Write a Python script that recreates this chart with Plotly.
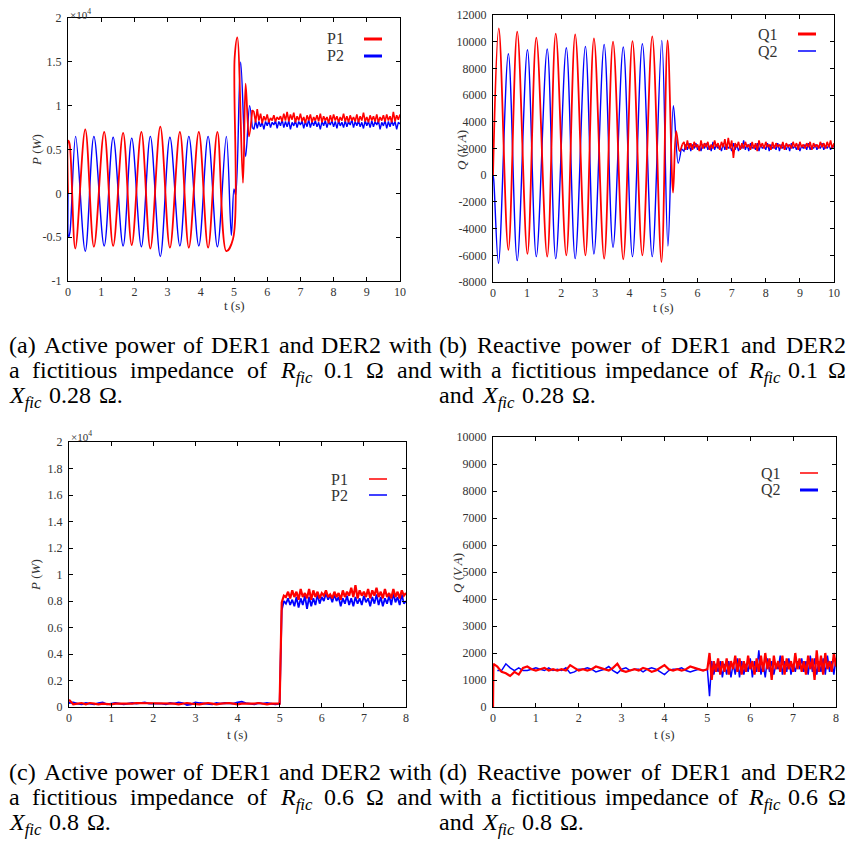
import numpy as np
import plotly.graph_objects as go

# reference canvas is 856x842; the page body margin (8 px) offsets the figure
REF_W, REF_H = 856, 842
OFF = 8
W, H = REF_W - OFF, REF_H - OFF
RED, BLUE = '#ff0000', '#0000ff'

# ---------------- (a) active power, Rfic 0.1, Xfic 0.28  [W] ----------------
a_p1_t = [0.00, 0.01, 0.05, 0.22, 0.52, 0.78, 1.09, 1.36, 1.66, 1.92, 2.21, 2.48, 2.78,
          3.07, 3.37, 3.64, 3.94, 4.22, 4.50, 4.77, 4.97, 5.02, 5.10, 5.27, 5.35, 5.45, 5.55]
a_p1 = [0, 6000, 5600, -6300, 7300, -6100, 7000, -6000, 6900, -5900, 7000, -6300, 7600,
        -6200, 7000, -6200, 7000, -6200, 7000, -6600, -5200, 15500, 17800, 1200, 12500, 6500, 9500]
a_p2_t = [0.00, 0.02, 0.06, 0.23, 0.52, 0.78, 1.09, 1.36, 1.66, 1.92, 2.21, 2.48, 2.78,
          3.07, 3.37, 3.64, 3.94, 4.22, 4.50, 4.77, 4.92, 5.00, 5.05, 5.20, 5.35, 5.47, 5.55]
a_p2 = [0, -5000, -4400, 6500, -6600, 6500, -6000, 6400, -6000, 6300, -6100, 6500, -7200,
        6400, -6000, 6500, -6000, 6500, -6100, 6500, -4800, 500, -200, 15000, 4200, 10000, 7500]
a_tail_start, a_tail_end = 5.6, 10.0
a_p1_tail = [9300, 8100, 9600, 8300, 9100, 8000, 8800, 8300, 9000, 8100, 8600, 8300, 8900, 8200, 8700,
             8400, 8800, 8200, 9100, 8300, 9300, 8200, 9000, 8400, 9200, 8100, 8800, 8300, 9100, 8200,
             8700, 8000, 8900, 8300, 9000, 8100, 8700, 8300, 8900, 8200, 9100, 8100, 8800, 8300, 8700,
             8000, 8900, 8200, 9000, 8300, 8800, 8100, 8700, 8300, 9100, 8200, 8800, 8100, 8900, 8300,
             8700, 8200, 9000, 8100, 8800, 8300, 9200, 8200, 8700, 8100, 8900, 8300, 8800, 8200, 9000,
             8100, 8700, 8300, 8900, 8200, 9000, 8300, 8800, 8100, 9300, 8200, 8900, 8400, 9000]
a_p2_tail = [7300, 8300, 7400, 8200, 7600, 8100, 7300, 8200, 7700, 8300, 7500, 8100, 7800, 8300, 7400,
             8200, 7700, 8400, 7500, 8200, 7600, 8300, 7300, 8100, 7700, 8300, 7500, 8200, 7800, 8300,
             7400, 8200, 7600, 8400, 7500, 8200, 7700, 8300, 7600, 8100, 7300, 8200, 7700, 8300, 7500,
             8200, 7800, 8300, 7600, 8200, 7400, 8300, 7700, 8100, 7500, 8300, 7600, 8200, 7800, 8400,
             7500, 8200, 7700, 8300, 7600, 8100, 7400, 8300, 7700, 8200, 7500, 8300, 7600, 8200, 7800,
             8300, 7300, 8100, 7700, 8300, 7400, 8200, 7600, 8300, 7700, 8200, 7300, 8100, 7900]

# ---------------- (b) reactive power, Rfic 0.1, Xfic 0.28  [VA] ----------------
b_q1_t = [0.00, 0.17, 0.45, 0.71, 1.01, 1.27, 1.59, 1.84, 2.15, 2.41, 2.71, 2.96, 3.26, 3.52,
          3.82, 4.09, 4.38, 4.67, 4.94, 5.12, 5.28, 5.37, 5.47, 5.55]
b_q1 = [0, 11000, -5600, 10750, -5900, 10300, -6100, 10600, -6000, 10550, -6000, 10250, -6250, 10000,
        -6300, 10050, -6000, 10400, -6500, 10100, -1300, 3300, 1800, 2300]
b_q2_t = [0.00, 0.02, 0.16, 0.45, 0.71, 1.01, 1.27, 1.59, 1.84, 2.15, 2.41, 2.71, 2.96, 3.26,
          3.52, 3.82, 4.09, 4.38, 4.67, 4.95, 5.13, 5.29, 5.43, 5.52]
b_q2 = [0, -300, -6600, 9100, -6400, 9400, -6100, 9450, -6250, 9550, -6250, 9650, -5900, 9800,
        -5400, 9600, -6100, 9850, -6100, 10100, -5300, 5200, 900, 2000]
b_tail_start, b_tail_end = 5.6, 10.0
b_q1_tail = [2500, 1900, 2600, 2000, 2400, 1900, 2500, 2100, 2300, 1800, 2600, 2000, 2400, 2100, 2500,
             1900, 2300, 2000, 2600, 2100, 2400, 1900, 2500, 2100, 2700, 1900, 2800, 2000, 2600, 1300,
             2400, 2100, 2500, 1900, 2400, 2000, 2500, 2100, 2300, 1900, 2500, 2000, 2400, 1800, 2600,
             2100, 2400, 2000, 2500, 2100, 2300, 1900, 2500, 2000, 2400, 2100, 2300, 2000, 2500, 1900,
             2400, 2100, 2300, 2000, 2500, 2100, 2400, 1900, 2500, 2100, 2300, 2000, 2400, 2100, 2500,
             1900, 2400, 2100, 2300, 2000, 2500, 2100, 2400, 2000, 2500, 2100, 2600, 2000, 2400]
b_q2_tail = [1800, 2300, 1900, 2400, 1800, 2300, 2000, 2400, 1900, 2200, 1800, 2300, 2000, 2400, 1900,
             2200, 1800, 2500, 1900, 2300, 2000, 2200, 1800, 2400, 1900, 2300, 2000, 2200, 1800, 2400,
             1900, 2300, 1800, 2200, 2000, 2600, 1900, 2300, 1800, 2400, 2000, 2200, 1900, 2400, 1800,
             2300, 2000, 2200, 1900, 2400, 1800, 2300, 2000, 2200, 1900, 2400, 1800, 2300, 2000, 2200,
             1900, 2300, 1800, 2400, 2000, 2200, 1900, 2300, 1800, 2200, 2000, 2300, 1900, 2400, 1900,
             2200, 2000, 2300, 1900, 2200, 2000, 2400, 1900, 2200, 2000, 2300, 1900, 2200, 2100]

# ---------------- (c) active power, Rfic 0.6, Xfic 0.8  [W] ----------------
c_pre_start, c_pre_end = 0.0, 5.0
c_p1_pre = [550, 200, 250, 300, 200, 300, 250, 200, 250, 200, 200, 250, 250, 200, 200, 250, 300,
            300, 250, 300, 250, 300, 300, 250, 250, 250, 200, 250, 300, 250, 200, 200, 250, 300,
            250, 200, 250, 300, 300, 250, 200, 250, 250, 200, 250, 300, 250, 200, 250, 250, 250]
c_p2_pre = [300, 350, 250, 200, 300, 250, 200, 300, 350, 200, 250, 300, 250, 200, 250, 300, 250,
            300, 350, 250, 250, 300, 250, 200, 300, 250, 350, 300, 150, 200, 350, 300, 250, 200,
            200, 300, 250, 300, 250, 250, 350, 400, 300, 250, 200, 300, 250, 300, 250, 200, 250]
c_post_start, c_post_end = 5.05, 8.0
c_p1_post = [7900, 8400, 8300, 8700, 8200, 8800, 8300, 8700, 8100, 8900, 8300, 8600, 8200, 8900, 8100,
             8800, 8300, 8700, 8200, 8600, 8400, 8800, 8300, 8500, 8200, 8700, 8300, 8600, 8100, 8800,
             8300, 8700, 8400, 9000, 8300, 9200, 8200, 8800, 8400, 8700, 8300, 8900, 8200, 8800, 8400,
             9000, 8300, 8700, 8200, 8900, 8300, 8600, 8200, 8900, 8300, 8700, 8200, 8800, 8400, 8600]
c_p2_post = [7300, 8000, 7800, 8200, 7700, 8100, 7600, 8300, 7500, 8200, 7700, 8400, 7400, 8300, 7600,
             8200, 7700, 8500, 7800, 8300, 8000, 8600, 8100, 8400, 7900, 8500, 8000, 8300, 7600, 8200,
             7800, 8400, 7700, 8200, 7600, 8300, 7800, 8200, 7700, 8400, 7900, 8200, 7600, 8300, 7800,
             8500, 7700, 8300, 7600, 8200, 7800, 8400, 7700, 8600, 7900, 8300, 7700, 8500, 7800, 8000]

# ---------------- (d) reactive power, Rfic 0.6, Xfic 0.8  [VA] ----------------
d_q1_init_t = [0.0, 0.01]
d_q1_init = [0, 1600]
d_pre_start, d_pre_end = 0.1, 5.0
d_q1_pre = [1500, 1300, 1250, 1150, 1300, 1200, 1450, 1500, 1400, 1350, 1400, 1450, 1350, 1400, 1350,
            1400, 1350, 1550, 1450, 1350, 1400, 1350, 1400, 1500, 1450, 1400, 1350, 1450, 1600, 1350,
            1300, 1350, 1400, 1350, 1450, 1400, 1300, 1350, 1450, 1550, 1400, 1350, 1400, 1350, 1400,
            1500, 1450, 1400, 1350, 1400]
d_q2_pre = [1350, 1350, 1600, 1450, 1350, 1450, 1350, 1350, 1400, 1450, 1400, 1350, 1450, 1350, 1400,
            1350, 1450, 1250, 1300, 1400, 1400, 1450, 1400, 1300, 1350, 1400, 1500, 1350, 1250, 1400,
            1450, 1350, 1400, 1400, 1300, 1400, 1450, 1400, 1300, 1200, 1350, 1400, 1400, 1450, 1350,
            1300, 1350, 1400, 1350, 1400]
d_post_start, d_post_end = 5.05, 8.0
d_q1_post = [2000, 1000, 1700, 1300, 1800, 1200, 1700, 1300, 1800, 1200, 1700, 1400, 1900, 1300, 1800,
             1200, 1700, 1300, 1900, 1400, 1700, 1200, 1800, 1300, 1900, 1300, 2000, 1400, 1800, 1000,
             1900, 1400, 1700, 1300, 1900, 1200, 1800, 1400, 1700, 1300, 2000, 1400, 1800, 1300, 1700,
             1200, 1900, 1400, 1800, 1000, 2100, 1300, 1900, 1200, 2000, 1400, 1700, 1300, 2000, 1500]
d_q2_post = [400, 1700, 1200, 1600, 1300, 1700, 1100, 1600, 1200, 1700, 1100, 1600, 1200, 1800, 1100,
             1700, 1200, 1600, 1300, 1800, 1100, 1700, 1300, 2100, 1200, 1600, 1100, 1800, 1300, 1700,
             1200, 1600, 1400, 1900, 1200, 1700, 1300, 1800, 1200, 1600, 1300, 1700, 1400, 1800, 1300,
             1700, 1200, 1900, 1300, 1800, 1200, 1700, 1300, 1800, 1200, 1900, 1300, 1700, 1200, 1800]

# ---------------- tick labels ----------------
a_yticks = [-1, -0.5, 0, 0.5, 1, 1.5, 2]
a_ytext = ['-1', '-0.5', '0', '0.5', '1', '1.5', '2']
b_yticks = [-8000, -6000, -4000, -2000, 0, 2000, 4000, 6000, 8000, 10000, 12000]
b_ytext = ['-8000', '-6000', '-4000', '-2000', '0', '2000', '4000', '6000', '8000', '10000', '12000']
c_yticks = [0, 0.2, 0.4, 0.6, 0.8, 1, 1.2, 1.4, 1.6, 1.8, 2]
c_ytext = ['0', '0.2', '0.4', '0.6', '0.8', '1', '1.2', '1.4', '1.6', '1.8', '2']
d_yticks = [0, 1000, 2000, 3000, 4000, 5000, 6000, 7000, 8000, 9000, 10000]
d_ytext = ['0', '1000', '2000', '3000', '4000', '5000', '6000', '7000', '8000', '9000', '10000']
x10_ticks = [0, 1, 2, 3, 4, 5, 6, 7, 8, 9, 10]
x8_ticks = [0, 1, 2, 3, 4, 5, 6, 7, 8]

# =====================================================================
fig = go.Figure()
def fx(x): return (x - OFF) / W
def fy(y): return 1 - (y - OFF) / H

def line(xa, ya, t, v, color, width, shape='linear'):
    fig.add_trace(go.Scatter(x=t, y=v, mode='lines', xaxis=xa, yaxis=ya,
                             line=dict(color=color, width=width, shape=shape, smoothing=1.0),
                             showlegend=False, hoverinfo='skip'))

S = 1e4
# (a)
at_tail = np.linspace(a_tail_start, a_tail_end, len(a_p2_tail))
line('x', 'y', a_p2_t, np.array(a_p2) / S, BLUE, 1.4, 'spline')
line('x', 'y', np.r_[a_p2_t[-1], at_tail], np.r_[a_p2[-1], a_p2_tail] / S, BLUE, 1.4)
at_tail = np.linspace(a_tail_start, a_tail_end, len(a_p1_tail))
line('x', 'y', a_p1_t, np.array(a_p1) / S, RED, 1.8, 'spline')
line('x', 'y', np.r_[a_p1_t[-1], at_tail], np.r_[a_p1[-1], a_p1_tail] / S, RED, 1.6)
# (b)
bt = np.linspace(b_tail_start, b_tail_end, len(b_q2_tail))
line('x2', 'y2', b_q2_t, b_q2, BLUE, 1.4, 'spline')
line('x2', 'y2', np.r_[b_q2_t[-1], bt], np.r_[b_q2[-1], b_q2_tail], BLUE, 1.3)
bt = np.linspace(b_tail_start, b_tail_end, len(b_q1_tail))
line('x2', 'y2', b_q1_t, b_q1, RED, 1.8, 'spline')
line('x2', 'y2', np.r_[b_q1_t[-1], bt], np.r_[b_q1[-1], b_q1_tail], RED, 1.6)
# (c)
cpre = np.linspace(c_pre_start, c_pre_end, len(c_p2_pre))
cpost = np.linspace(c_post_start, c_post_end, len(c_p2_post))
line('x3', 'y3', np.r_[cpre, cpost], np.r_[c_p2_pre, c_p2_post] / S, BLUE, 1.8)
cpre = np.linspace(c_pre_start, c_pre_end, len(c_p1_pre))
cpost = np.linspace(c_post_start, c_post_end, len(c_p1_post))
line('x3', 'y3', np.r_[cpre, cpost], np.r_[c_p1_pre, c_p1_post] / S, RED, 2.2)
# (d)
dpre = np.linspace(d_pre_start, d_pre_end, len(d_q2_pre))
dpost = np.linspace(d_post_start, d_post_end, len(d_q2_post))
line('x4', 'y4', np.r_[dpre, dpost], np.r_[d_q2_pre, d_q2_post], BLUE, 1.5)
dpre = np.linspace(d_pre_start, d_pre_end, len(d_q1_pre))
dpost = np.linspace(d_post_start, d_post_end, len(d_q1_post))
line('x4', 'y4', np.r_[d_q1_init_t, dpre, dpost], np.r_[d_q1_init, d_q1_pre, d_q1_post], RED, 2.2)

# ---------------- axes ----------------
TICKFONT = dict(family='Liberation Serif', size=12, color='#333333')
def ax(**kw):
    d = dict(showline=True, linecolor='black', linewidth=1, mirror='ticks', ticks='inside',
             ticklen=4, tickcolor='black', tickwidth=1, showgrid=False, zeroline=False,
             tickfont=TICKFONT, fixedrange=True, automargin=False)
    d.update(kw)
    return d

boxes = {  # pixel boxes in the reference: left, right, top, bottom
    'a': (68, 400, 18, 281), 'b': (493, 834, 15, 282),
    'c': (69, 406, 442, 707), 'd': (493, 836, 437, 707)}
def dom(k):
    l, r, t, b = boxes[k]
    return [fx(l), fx(r)], [fy(b), fy(t)]

YEXTRA = dict(ticklabelstandoff=3)
xa, ya = dom('a')
fig.update_layout(xaxis=ax(domain=xa, anchor='y', range=[0, 10], tickvals=x10_ticks),
                  yaxis=ax(domain=ya, anchor='x', range=[-1, 2], tickvals=a_yticks, ticktext=a_ytext, **YEXTRA))
xa, ya = dom('b')
fig.update_layout(xaxis2=ax(domain=xa, anchor='y2', range=[0, 10], tickvals=x10_ticks),
                  yaxis2=ax(domain=ya, anchor='x2', range=[-8000, 12000], tickvals=b_yticks, ticktext=b_ytext, **YEXTRA))
xa, ya = dom('c')
fig.update_layout(xaxis3=ax(domain=xa, anchor='y3', range=[0, 8], tickvals=x8_ticks),
                  yaxis3=ax(domain=ya, anchor='x3', range=[0, 2], tickvals=c_yticks, ticktext=c_ytext, **YEXTRA))
xa, ya = dom('d')
fig.update_layout(xaxis4=ax(domain=xa, anchor='y4', range=[0, 8], tickvals=x8_ticks),
                  yaxis4=ax(domain=ya, anchor='x4', range=[0, 10000], tickvals=d_yticks, ticktext=d_ytext, **YEXTRA))

annots = []
shapes = []
def txt(x, y, s, size=13, xanchor='center', yanchor='middle', angle=0, color='#333333'):
    annots.append(dict(x=fx(x), y=fy(y), xref='paper', yref='paper', text=s, showarrow=False,
                       xanchor=xanchor, yanchor=yanchor, textangle=angle, borderpad=0,
                       font=dict(family='Liberation Serif', size=size, color=color)))

# axis titles
for (cx, cy) in [(234, 305), (663, 307), (237, 734), (664, 734)]:
    txt(cx, cy, 't (s)', 13)
txt(36, 150, '<i>P</i> (<i>W</i>)', 13, angle=-90)
txt(35, 575, '<i>P</i> (<i>W</i>)', 13, angle=-90)
txt(461, 150, '<i>Q</i> (<i>V A</i>)', 13, angle=-90)
txt(457, 573, '<i>Q</i> (<i>V A</i>)', 13, angle=-90)
txt(69, 14, '×10<sup>4</sup>', 11, xanchor='left')
txt(70, 436, '×10<sup>4</sup>', 11, xanchor='left')

# legends (gnuplot style: label then line sample)
legends = [
    (326, 39, 'P1', RED, 364, 382, 3), (326, 56, 'P2', BLUE, 364, 382, 3),
    (757, 34, 'Q1', RED, 798, 816, 3), (757, 51, 'Q2', BLUE, 798, 816, 1.5),
    (330, 479, 'P1', RED, 369, 387, 1.5), (330, 495, 'P2', BLUE, 369, 387, 1.5),
    (760, 473, 'Q1', RED, 800, 818, 1.5), (760, 490, 'Q2', BLUE, 800, 818, 3),
]
for (x, y, s, c, x0, x1, w) in legends:
    txt(x, y, s, 16, xanchor='left')
    shapes.append(dict(type='line', xref='paper', yref='paper', x0=fx(x0), x1=fx(x1),
                       y0=fy(y), y1=fy(y), line=dict(color=c, width=w)))

# ---------------- captions (justified, word by word) ----------------
REG = {' ': .25, '(': .333, ')': .333, '.': .25, 'A': .722, 'D': .722, 'E': .611, 'R': .667,
       'X': .722, 'Ω': .768, 'a': .444, 'b': .5, 'c': .444, 'd': .5, 'e': .444, 'f': .333,
       'h': .5, 'i': .278, 'm': .778, 'n': .5, 'o': .5, 'p': .5, 'r': .333, 's': .389,
       't': .278, 'u': .5, 'v': .5, 'w': .722}
for dgt in '0123456789':
    REG[dgt] = .5
ITA = {'R': .611, 'X': .611, 'f': .278, 'i': .278, 'c': .444}
CAP_FS = 24

def wwidth(tok):
    if isinstance(tok, tuple):
        return CAP_FS * (sum(ITA[ch] for ch in tok[0]) + 0.7 * sum(ITA[ch] for ch in tok[1]))
    return CAP_FS * sum(REG[ch] for ch in tok)

def whtml(tok):
    if isinstance(tok, tuple):
        return '<i>%s</i><sub><i>%s</i></sub>' % tok
    return tok

def caption_line(words, x0, x1, ytop, justify):
    ws = [wwidth(w) for w in words]
    gap = (x1 - x0 - sum(ws)) / (len(words) - 1) if justify else CAP_FS * 0.35
    x = x0
    for w, wd in zip(words, ws):
        txt(x, ytop, whtml(w), CAP_FS, xanchor='left', yanchor='top', color='black')
        x += wd + gap

RF, XF = ('R', 'fic'), ('X', 'fic')
L0, L1, R0, R1 = 8, 431, 438, 845
caps = [
    # (words, x0, x1, center y, justify)
    ('(a) Active power of DER1 and DER2 with'.split(), L0, L1, 345, True),
    ('a fictitious impedance of'.split() + [RF, '0.1', 'Ω', 'and'], L0, L1, 370, True),
    ([XF, '0.28', 'Ω.'], L0, L1, 395, False),
    ('(b) Reactive power of DER1 and DER2'.split(), R0, R1, 345, True),
    ('with a fictitious impedance of'.split() + [RF, '0.1', 'Ω'], R0, R1, 370, True),
    (['and', XF, '0.28', 'Ω.'], R0, R1, 395, False),
    ('(c) Active power of DER1 and DER2 with'.split(), L0, L1, 772, True),
    ('a fictitious impedance of'.split() + [RF, '0.6', 'Ω', 'and'], L0, L1, 797, True),
    ([XF, '0.8', 'Ω.'], L0, L1, 822, False),
    ('(d) Reactive power of DER1 and DER2'.split(), R0, R1, 772, True),
    ('with a fictitious impedance of'.split() + [RF, '0.6', 'Ω'], R0, R1, 797, True),
    (['and', XF, '0.8', 'Ω.'], R0, R1, 822, False),
]
for words, x0, x1, yc, j in caps:
    caption_line(words, x0, x1, yc - 14, j)

fig.update_layout(template='none', width=W, height=H, margin=dict(l=0, r=0, t=0, b=0, pad=0),
                  plot_bgcolor='white', paper_bgcolor='white', showlegend=False,
                  annotations=annots, shapes=shapes)
fig.write_html('out.html')
